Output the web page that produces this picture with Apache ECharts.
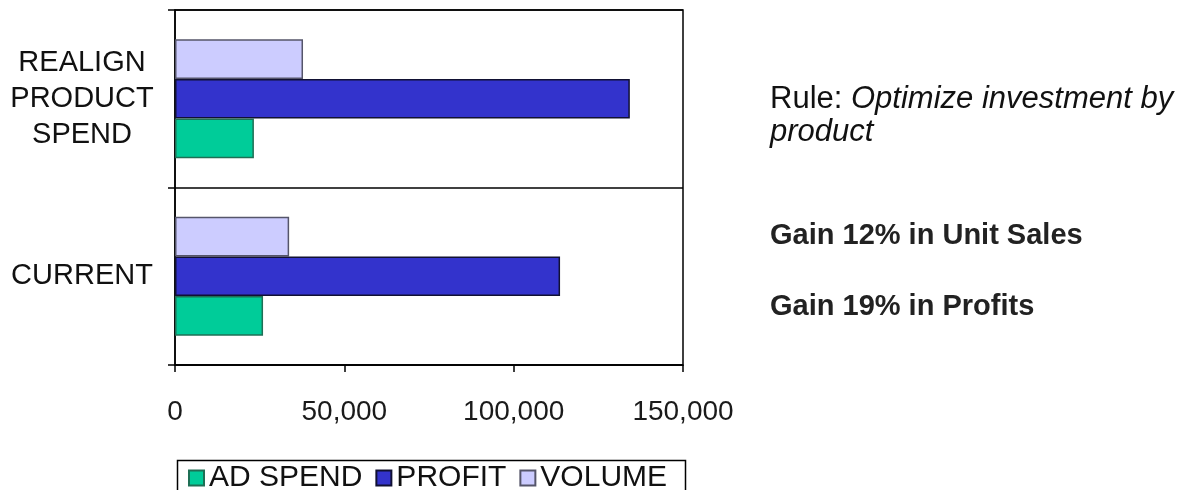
<!DOCTYPE html>
<html>
<head>
<meta charset="utf-8">
<script src="https://cdn.jsdelivr.net/npm/echarts@6/dist/echarts.min.js"></script>
<style>
html,body{margin:0;padding:0;background:#fff;}
#chart{width:1183px;height:490px;}
</style>
</head>
<body>
<div id="chart"></div>
<script>
const categories = ['CURRENT', 'REALIGN\nPRODUCT\nSPEND'];
const adSpend = [26000, 23300];
const profit = [113700, 134300];
const volume = [33700, 37800];
const seriesNames = ['AD SPEND', 'PROFIT', 'VOLUME'];
const xTicks = { min: 0, max: 150000, interval: 50000 };
const noteRule = ['Rule: ', 'Optimize investment by', 'product'];
const noteGains = ['Gain 12% in Unit Sales', 'Gain 19% in Profits'];

const FONT = '"Liberation Sans", Arial, sans-serif';
const chart = echarts.init(document.getElementById('chart'));

function fmt(v) { return v.toString().replace(/\B(?=(\d{3})+(?!\d))/g, ','); }

const barCommon = { type: 'bar', barGap: '0%', barCategoryGap: '33%' };

chart.setOption({
  animation: false,
  textStyle: { fontFamily: FONT },
  grid: { left: 175, right: 500, top: 10, bottom: 125, show: true, borderColor: '#000', borderWidth: 1.5 },
  xAxis: {
    type: 'value', min: xTicks.min, max: xTicks.max, interval: xTicks.interval,
    axisLine: { show: true, lineStyle: { color: '#000', width: 1.5 } },
    axisTick: { show: true, length: 7, lineStyle: { color: '#000', width: 1.5 } },
    splitLine: { show: false },
    axisLabel: { formatter: fmt, color: '#1a1a1a', fontSize: 28, margin: 33, fontFamily: FONT }
  },
  yAxis: {
    type: 'category', data: categories,
    axisLine: { show: true, lineStyle: { color: '#000', width: 1.5 } },
    axisTick: { show: true, length: 7, lineStyle: { color: '#000', width: 1.5 } },
    splitLine: { show: true, lineStyle: { color: '#000', width: 1.5 } },
    axisLabel: { color: '#111', fontSize: 29, lineHeight: 36, align: 'center', margin: 93, fontFamily: FONT }
  },
  legend: {
    data: seriesNames,
    left: 183, top: 458,
    icon: 'rect',
    itemWidth: 15, itemHeight: 15, itemGap: 13,
    textStyle: { fontSize: 30, color: '#111', fontFamily: FONT }
  },
  series: [
    Object.assign({ name: seriesNames[2], data: volume,
      itemStyle: { color: '#CCCCFF', borderColor: '#55556a', borderWidth: 1.5 } }, barCommon),
    Object.assign({ name: seriesNames[1], data: profit,
      itemStyle: { color: '#3333CC', borderColor: '#111133', borderWidth: 1.5 } }, barCommon),
    Object.assign({ name: seriesNames[0], data: adSpend,
      itemStyle: { color: '#00CC99', borderColor: '#1f6f55', borderWidth: 1.5 } }, barCommon)
  ],
  graphic: [
    { type: 'rect', left: 175, top: 458, shape: { width: 508, height: 60 },
      style: { fill: 'none', stroke: '#000', lineWidth: 1.5 }, silent: true },
    { type: 'text', left: 770, top: 84,
      style: { text: '{a|' + noteRule[0] + '}{b|' + noteRule[1] + '}\n{b|' + noteRule[2] + '}',
        rich: {
          a: { fontSize: 31, fontFamily: FONT, fill: '#111', lineHeight: 33 },
          b: { fontSize: 31, fontFamily: FONT, fontStyle: 'italic', fill: '#111', lineHeight: 33 }
        } } },
    { type: 'text', left: 770, top: 221,
      style: { text: noteGains[0], fontSize: 29, fontWeight: 'bold', fontFamily: FONT, fill: '#222' } },
    { type: 'text', left: 770, top: 292,
      style: { text: noteGains[1], fontSize: 29, fontWeight: 'bold', fontFamily: FONT, fill: '#222' } }
  ]
});
</script>
</body>
</html>
